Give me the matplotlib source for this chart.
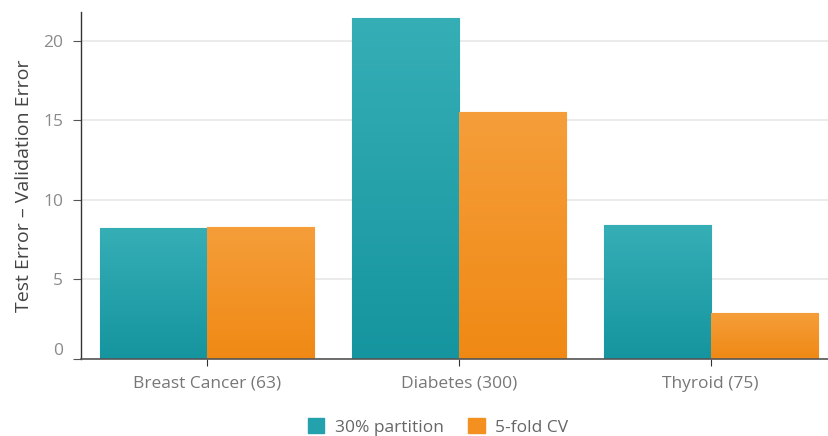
import matplotlib
matplotlib.use("Agg")
import matplotlib.pyplot as plt
import numpy as np
from matplotlib.patches import Patch
from matplotlib.colors import LinearSegmentedColormap
import matplotlib.transforms as mtransforms

categories = ["Breast Cancer (63)", "Diabetes (300)", "Thyroid (75)"]
series_names = ["30% partition", "5-fold CV"]
partition_vals = [8.25, 21.4, 8.4]
cv_vals = [8.3, 15.5, 2.9]
yticks = [0, 5, 10, 15, 20]

teal = "#23a1ac"
orange = "#f4901f"
teal_grad = LinearSegmentedColormap.from_list("tg", ["#15959f", "#36aeb6"])
orange_grad = LinearSegmentedColormap.from_list("og", ["#f08914", "#f59e3a"])

plt.rcParams['font.family'] = ['Open Sans', 'DejaVu Sans']

fig = plt.figure(figsize=(8.29, 4.36), dpi=100)
ax = fig.add_axes([81/829, 1-359/436, 1-81/829, (359-12)/436])

x = np.arange(len(categories))
w = 0.425
b1 = ax.bar(x - w/2, partition_vals, width=w, color=teal, edgecolor="#1a939e", linewidth=0.8, zorder=3, label=series_names[0])
b2 = ax.bar(x + w/2, cv_vals, width=w, color=orange, edgecolor="#ee8612", linewidth=0.8, zorder=3, label=series_names[1])

grad = np.linspace(0, 1, 256).reshape(-1, 1)
for bars, cmap in ((b1, teal_grad), (b2, orange_grad)):
    for bar in bars:
        bx, by = bar.get_x(), bar.get_y()
        bw, bh = bar.get_width(), bar.get_height()
        im = ax.imshow(grad, cmap=cmap, aspect="auto", origin="lower",
                       extent=(bx, bx + bw, by, by + bh), zorder=3.5)
        im.set_clip_path(bar)
ax.set_xlim(-0.5, 2.47)
ax.set_ylim(0, 21.8)

ax.set_yticks(yticks)
ax.set_yticklabels([str(t) for t in yticks])
ax.set_xticks(x)
ax.set_xticklabels(categories)
ax.yaxis.grid(True, color="#e8e8e8", linewidth=1.2, zorder=0)
ax.set_axisbelow(True)

for s in ["top", "right"]:
    ax.spines[s].set_visible(False)
ax.spines["left"].set_color("#333333")
ax.spines["bottom"].set_color("#555555")
ax.spines["left"].set_linewidth(1.0)
ax.spines["bottom"].set_linewidth(1.2)
ax.spines["bottom"].set_zorder(5)

ax.tick_params(axis="y", length=6, color="#555555", labelcolor="#8a8a8a", labelsize=12.5, pad=7)
ax.tick_params(axis="x", length=5, color="#333333", labelcolor="#777777", labelsize=12.5, pad=7)
ax.set_ylabel("Test Error \u2013 Validation Error", fontsize=14, color="#444444", labelpad=7)

# the zero label sits slightly above the baseline in the reference
zero_lbl = ax.get_yticklabels()[0]
zero_lbl.set_transform(zero_lbl.get_transform() + mtransforms.ScaledTranslation(0, 10/100, fig.dpi_scale_trans))

handles = [Patch(facecolor=teal, edgecolor=teal), Patch(facecolor=orange, edgecolor=orange)]
fig.legend(handles, series_names, loc="center", bbox_to_anchor=(438/829, 1-427/436), ncol=2,
           frameon=False, fontsize=12.5, labelcolor="#666666", handlelength=0.95, handleheight=0.95,
           handletextpad=0.6, columnspacing=1.4)

fig.savefig("out.png", dpi=100)
